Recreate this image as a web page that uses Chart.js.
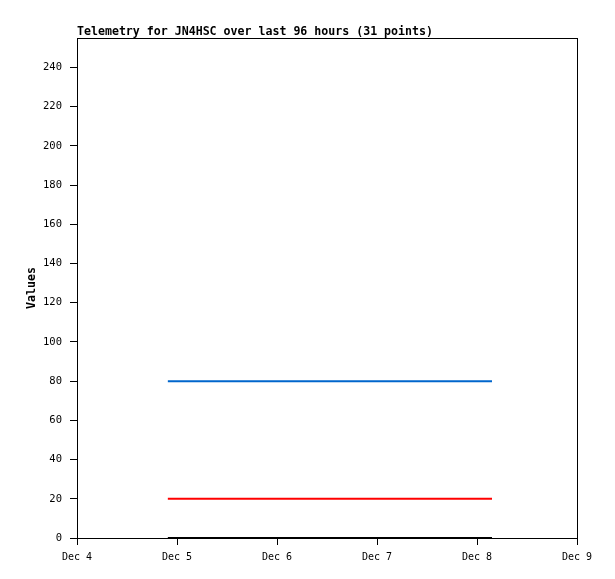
<!DOCTYPE html>
<html>
<head>
<meta charset="utf-8">
<script src="https://cdn.jsdelivr.net/npm/chart.js@4"></script>
<style>
  html, body { margin: 0; padding: 0; background: #fff; }
  #wrap { width: 615px; height: 579px; }
</style>
</head>
<body>
<div id="wrap"><canvas id="myChart" width="615" height="579"></canvas></div>
<script>
// hours since Dec 4 00:00
const hours = [21.8, 24.4, 27.0, 29.6, 32.1, 34.7, 37.3, 39.9, 42.5, 45.1, 47.7,
  50.3, 52.8, 55.4, 58.0, 60.6, 63.2, 65.8, 68.4, 71.0, 73.5, 76.1, 78.7, 81.3,
  83.9, 86.5, 89.1, 91.7, 94.3, 96.9, 99.6];
const blueValues = [80, 80, 80, 80, 80, 80, 80, 80, 80, 80, 80, 80, 80, 80, 80, 80,
  80, 80, 80, 80, 80, 80, 80, 80, 80, 80, 80, 80, 80, 80, 80];
const redValues = [20, 20, 20, 20, 20, 20, 20, 20, 20, 20, 20, 20, 20, 20, 20, 20,
  20, 20, 20, 20, 20, 20, 20, 20, 20, 20, 20, 20, 20, 20, 20];
const blackValues = [0, 0, 0, 0, 0, 0, 0, 0, 0, 0, 0, 0, 0, 0, 0, 0,
  0, 0, 0, 0, 0, 0, 0, 0, 0, 0, 0, 0, 0, 0, 0];
const dayLabels = ["Dec 4", "Dec 5", "Dec 6", "Dec 7", "Dec 8", "Dec 9"];
const yTicks = [0, 20, 40, 60, 80, 100, 120, 140, 160, 180, 200, 220, 240];
const titleText = "Telemetry for JN4HSC over last 96 hours (31 points)";

const mono = "'DejaVu Sans Mono', monospace";
Chart.defaults.font.family = mono;
Chart.defaults.color = "#000";

function pts(vals) {
  return hours.map((h, i) => ({ x: h, y: vals[i] }));
}

const framePlugin = {
  id: "frame",
  afterDraw(chart) {
    const ctx = chart.ctx;
    const a = chart.chartArea;
    ctx.save();
    ctx.strokeStyle = "#000";
    ctx.lineWidth = 1;
    ctx.strokeRect(a.left + 0.5, a.top + 0.5, a.right - a.left, a.bottom - a.top);
    ctx.fillStyle = "#000";
    ctx.font = "bold 11.6px " + mono;
    ctx.textAlign = "left";
    ctx.textBaseline = "alphabetic";
    ctx.fillText(titleText, a.left, 35);
    ctx.translate(32, (a.top + a.bottom) / 2);
    ctx.rotate(-Math.PI / 2);
    ctx.textAlign = "center";
    ctx.textBaseline = "middle";
    ctx.fillText("Values", 0, 0);
    ctx.restore();
  },
};

const line = (vals, color) => ({
  data: pts(vals),
  borderColor: color,
  backgroundColor: color,
  borderWidth: 2,
  pointRadius: 0,
  tension: 0,
  fill: false,
  clip: 3,
});

new Chart("myChart", {
  type: "line",
  data: {
    datasets: [
      line(blueValues, "#0066cc"),
      line(redValues, "#ff0000"),
      line(blackValues, "#000000"),
    ],
  },
  plugins: [framePlugin],
  options: {
    responsive: false,
    animation: false,
    layout: { padding: { left: 0, right: 38, top: 38, bottom: 0 } },
    plugins: { legend: { display: false }, title: { display: false }, tooltip: { enabled: false } },
    scales: {
      x: {
        type: "linear",
        min: 0,
        max: 120,
        afterFit: (s) => { s.height = 41; },
        afterBuildTicks: (s) => { s.ticks = dayLabels.map((_, i) => ({ value: i * 24 })); },
        ticks: {
          autoSkip: false,
          maxRotation: 0,
          padding: 6,
          font: { size: 10 },
          callback: (v) => dayLabels[Math.round(v / 24)],
        },
        grid: { drawOnChartArea: false, tickLength: 7, color: "#000" },
        border: { color: "#000" },
      },
      y: {
        min: 0,
        max: 255,
        afterFit: (s) => { s.width = 77; },
        afterBuildTicks: (s) => { s.ticks = yTicks.map((v) => ({ value: v })); },
        ticks: { padding: 8, font: { size: 10.5 } },
        grid: { drawOnChartArea: false, tickLength: 7, color: "#000" },
        border: { color: "#000" },
      },
    },
  },
});
</script>
</body>
</html>
